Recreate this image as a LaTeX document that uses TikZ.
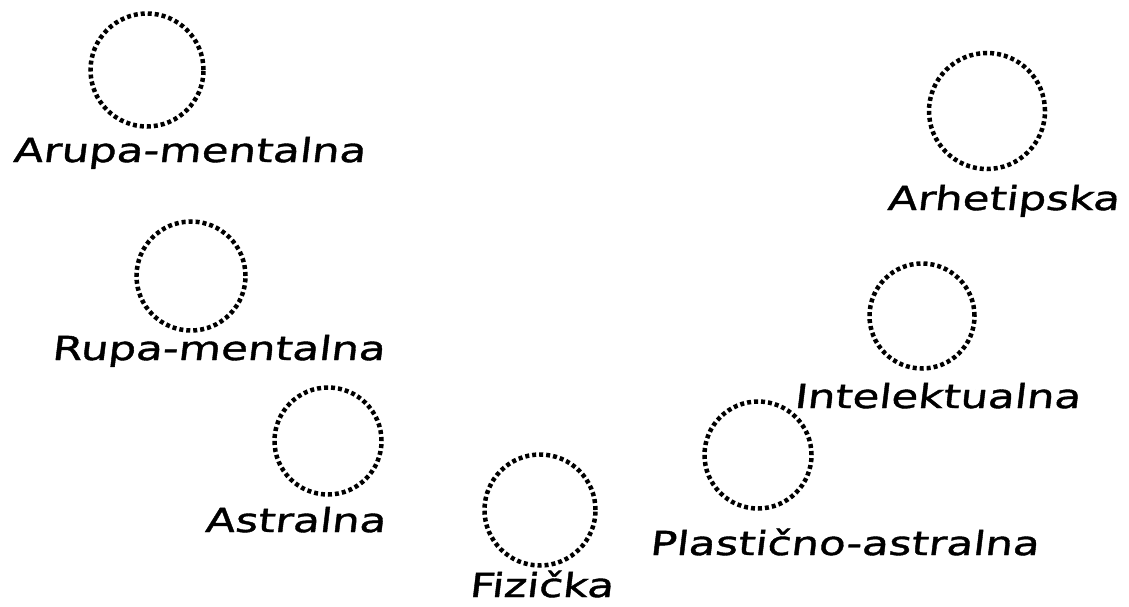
\documentclass[tikz,border=0pt]{standalone}
\usepackage{fontspec}
\newfontfamily\handfont[FakeStretch=1.32,FakeSlant=0.12,FakeBold=1.2]{DejaVu Sans}
\begin{document}
\begin{tikzpicture}[x=1pt,y=-1pt,
  ring/.style={draw=black,line width=4.5pt,dash pattern=on 4pt off 3pt,circle,minimum size=#1,inner sep=0pt},
  ring/.default=113pt,
  lab/.style={anchor=base,inner sep=0pt,font=\handfont\fontsize{33}{36}\selectfont}]
\useasboundingbox (0,0) rectangle (1129,607);
\node[ring=113pt] (c1) at (147,70) {};
\node[ring=116pt] (c2) at (987,111) {};
\node[ring=109pt] (c3) at (191,276) {};
\node[ring=105pt] (c4) at (922,316) {};
\node[ring=107pt] (c5) at (328,441) {};
\node[ring=107pt] (c6) at (758,455) {};
\node[ring=111pt] (c7) at (540,510) {};
\node[lab] (l1) at (189,162) {Arupa-mentalna};
\node[lab] (l2) at (1003,210) {Arhetipska};
\node[lab] (l3) at (218,360) {Rupa-mentalna};
\node[lab] (l4) at (937,408) {Intelektualna};
\node[lab] (l5) at (295,532) {Astralna};
\node[lab] (l6) at (844,555) {Plastično-astralna};
\node[lab] (l7) at (541,597) {Fizička};
\end{tikzpicture}
\end{document}
